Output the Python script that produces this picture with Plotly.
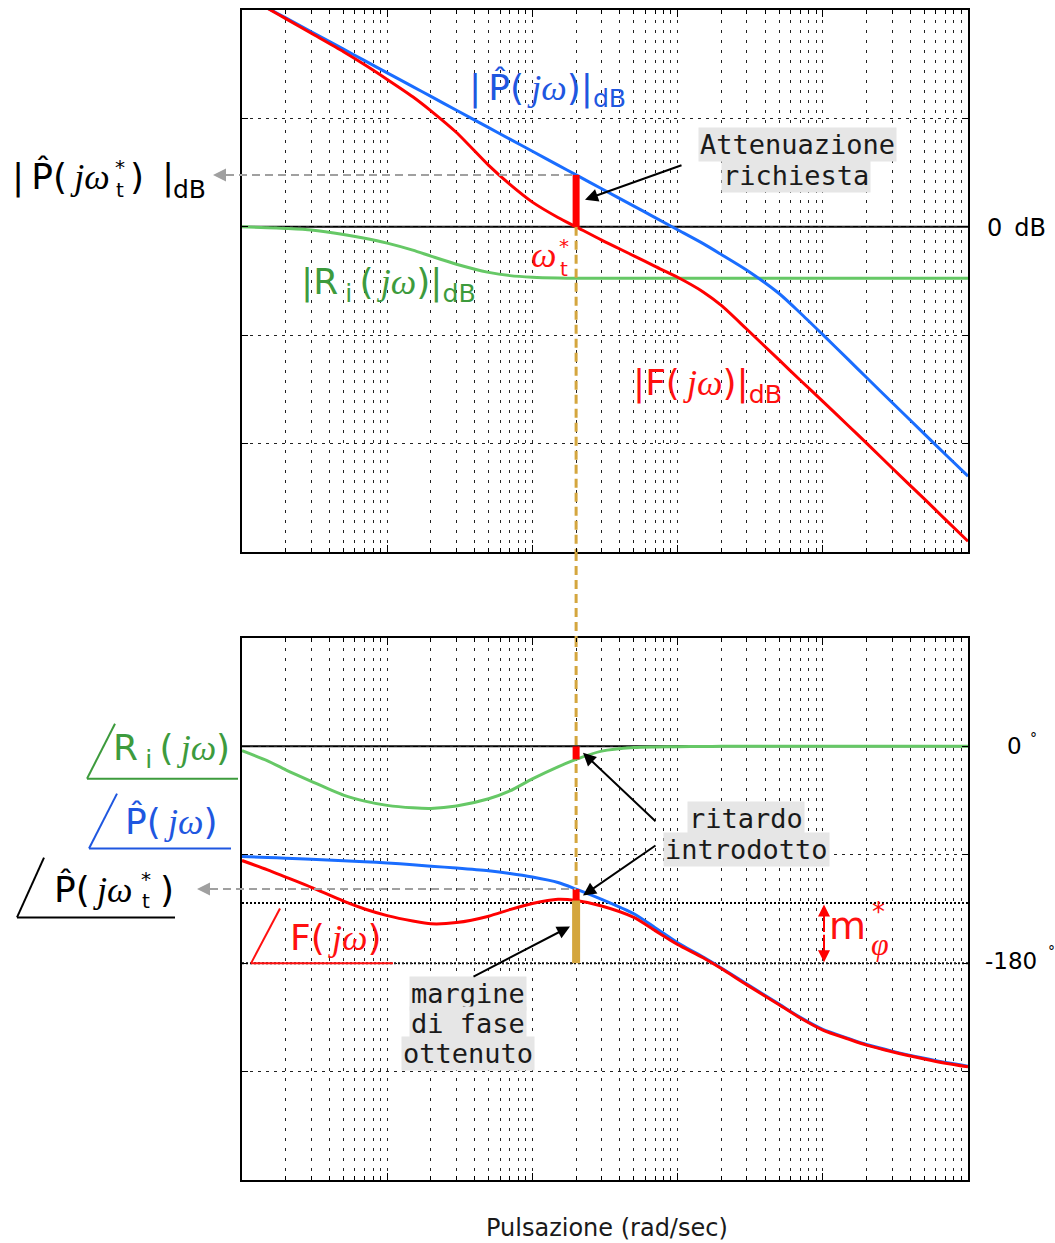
import plotly.graph_objects as go

# ---------------- data ----------------
omega = [0.01, 0.015, 0.02, 0.03, 0.05, 0.07, 0.1, 0.15, 0.2, 0.3, 0.5, 0.7,
         1, 1.5, 2, 3, 5, 7, 10, 15, 20, 30, 50, 70, 100, 150, 200, 300, 500, 700, 1000]

# magnitudes (dB)
P_mag = [42.9, 40.35, 38.54, 35.99, 32.78, 30.66, 28.41, 25.87, 24.06, 21.51, 18.30, 16.18,
         13.94, 11.39, 9.58, 7.03, 3.82, 1.70, -0.54, -3.1, -5.1, -8.0, -12.3, -15.9,
         -19.9, -24.5, -27.8, -32.4, -38.2, -42.0, -46.0]
F_mag = [42.9, 40.3, 38.4, 35.7, 32.3, 29.9, 27.2, 24.0, 21.4, 17.4, 11.34, 7.83,
         4.56, 1.73, 0.0, -2.45, -5.35, -7.3, -9.3, -12.0, -14.5, -18.9, -24.56, -28.3,
         -32.2, -36.7, -39.9, -44.5, -50.2, -54.0, -58.0]
R_mag = [0.0, -0.15, -0.3, -0.6, -1.4, -2.1, -3.0, -4.3, -5.4, -6.9, -8.4, -9.0,
         -9.3, -9.45, -9.5, -9.5, -9.5, -9.5, -9.5, -9.5, -9.5, -9.5, -9.5, -9.5,
         -9.5, -9.5, -9.5, -9.5, -9.5, -9.5, -9.5]

# phases (deg)
R_phase = [-3.6, -12, -19.5, -29, -40.5, -45.5, -49, -51, -51.5, -49.5, -43.5, -37,
           -27, -17, -10.8, -4, -1.0, -0.5, -0.3, -0.15, 0, 0, 0, 0,
           0, 0, 0, 0, 0, 0, 0]
P_phase = [-91.5, -92.2, -92.8, -93.7, -95, -95.8, -96.8, -98.3, -99.5, -101, -103.3, -105.5,
           -108.5, -113, -118.5, -127, -139, -150.5, -163, -175, -184, -197.3, -214, -225,
           -235, -242.5, -247.5, -253, -259, -262.5, -265.5]
F_phase = [-94.8, -102.5, -108.5, -117, -128.5, -135, -140.5, -145, -147.3, -146.3, -141, -135.5,
           -130.5, -127, -128, -132.5, -142, -153, -164.5, -175.5, -184.5, -198, -214.5, -225.5,
           -235.5, -243, -248, -253.5, -259.5, -263, -266]

omega_t = 2            # crossover frequency
pm_level = -130        # phase of F at crossover (margin line)
crit_phase = -180
i_t = omega.index(omega_t)

mag_ticks = [-40, -20, 0, 20]
phase_ticks = [-270, -180, -90, 0]
decades = [0.01, 0.1, 1, 10, 100, 1000]
minor_vals = [k * 10 ** d for d in range(-2, 3) for k in range(2, 10)]

# ---------------- layout helpers (pixel positions) ----------------
W, H = 1055, 1243
ML, MR, MT, MB = 242, 87, 8, 63
PX0, PX1, PY0, PY1 = ML, W - MR, MT, H - MB


def px(x):
    return (x - PX0) / (PX1 - PX0)


def py(y):
    return (PY1 - y) / (PY1 - PY0)


TOP_DOM = [py(551), 1.0]
BOT_DOM = [0.0, py(637)]

BLUE_L, BLUE_T = '#1a6dff', '#1f57e0'
RED_L, RED_T = '#ff0000', '#ff1010'
GREEN_L, GREEN_T = '#66c866', '#3d9b3d'
GOLD = '#d4a63e'
SANS = 'DejaVu Sans'
MONO = 'DejaVu Sans Mono'
T = '\u2009'
JW = '<i><span style="font-family:Liberation Serif">j\u03c9</span></i>'
PH = 'P\u0302'

fig = go.Figure()


def curve(x, y, color, xa, ya, width=3):
    fig.add_trace(go.Scatter(x=x, y=y, xaxis=xa, yaxis=ya, mode='lines',
                             line=dict(color=color, width=width, shape='spline', smoothing=0.7),
                             hoverinfo='skip', showlegend=False))


# magnitude plot
curve(omega, R_mag, GREEN_L, 'x', 'y')
curve(omega, P_mag, BLUE_L, 'x', 'y')
curve(omega, F_mag, RED_L, 'x', 'y')
# phase plot
curve(omega, R_phase, GREEN_L, 'x2', 'y2')
curve(omega, P_phase, BLUE_L, 'x2', 'y2')
curve(omega, F_phase, RED_L, 'x2', 'y2')


def seg(x, y, color, width, xa, ya, dash=None):
    fig.add_trace(go.Scatter(x=x, y=y, xaxis=xa, yaxis=ya, mode='lines',
                             line=dict(color=color, width=width, dash=dash),
                             hoverinfo='skip', showlegend=False))


# gold dashed crossover line (inside the two plots)
seg([omega_t, omega_t], [F_mag[i_t], -60], GOLD, 3, 'x', 'y', dash='9px,5px')
seg([omega_t, omega_t], [90, P_phase[i_t]], GOLD, 3, 'x2', 'y2', dash='9px,5px')
# bars at the crossover
seg([omega_t, omega_t], [P_mag[i_t], F_mag[i_t]], RED_L, 7, 'x', 'y')
seg([omega_t, omega_t], [0, R_phase[i_t]], RED_L, 7, 'x2', 'y2')
seg([omega_t, omega_t], [P_phase[i_t], F_phase[i_t]], RED_L, 7, 'x2', 'y2')
seg([omega_t, omega_t], [F_phase[i_t], crit_phase], GOLD, 8, 'x2', 'y2')

# ---------------- axes ----------------
grid_common = dict(showline=True, linecolor='black', linewidth=1.5, mirror='allticks',
                   ticks='inside', tickcolor='black', showticklabels=False, zeroline=False,
                   showgrid=True, gridcolor='#222222', gridwidth=1)
xax = dict(type='log', range=[-2, 3], tickmode='array', tickvals=decades, ticklen=7,
           griddash='3px,7px',
           minor=dict(tickmode='array', tickvals=minor_vals, ticks='inside', ticklen=4,
                      tickcolor='black', showgrid=True, gridcolor='#222222', gridwidth=1,
                      griddash='3px,7px'),
           **grid_common)

fig.update_layout(
    width=W, height=H, margin=dict(l=ML, r=MR, t=MT, b=MB),
    paper_bgcolor='white', plot_bgcolor='white', showlegend=False,
    xaxis=dict(anchor='y', domain=[0, 1], **xax),
    xaxis2=dict(anchor='y2', domain=[0, 1], **xax),
    yaxis=dict(anchor='x', domain=TOP_DOM, range=[-60, 40], tickmode='array',
               tickvals=mag_ticks, ticklen=6, griddash='3px,5px', **grid_common),
    yaxis2=dict(anchor='x2', domain=BOT_DOM, range=[-360, 90], tickmode='array',
                tickvals=phase_ticks, ticklen=6, griddash='3px,5px', **grid_common),
)

# reference lines
fig.add_shape(type='line', xref='paper', yref='y', x0=0, x1=1, y0=0, y1=0,
              line=dict(color='black', width=2), layer='between')
fig.add_shape(type='line', xref='paper', yref='y2', x0=0, x1=1, y0=0, y1=0,
              line=dict(color='black', width=2), layer='between')
for lv in (pm_level, crit_phase):
    fig.add_shape(type='line', xref='paper', yref='y2', x0=0, x1=1, y0=lv, y1=lv,
                  line=dict(color='black', width=2, dash='2px,2px'), layer='between')
# gold dashed line in the gap between plots
fig.add_shape(type='line', xref='x', yref='paper', x0=omega_t, x1=omega_t,
              y0=TOP_DOM[0], y1=BOT_DOM[1], line=dict(color=GOLD, width=3, dash='9px,5px'))

# gray dashed leaders towards the left labels
xt_paper = px(576)
fig.add_shape(type='line', xref='paper', yref='y', x0=px(226), x1=xt_paper,
              y0=P_mag[i_t], y1=P_mag[i_t], line=dict(color='#a0a0a0', width=2, dash='8px,5px'))
fig.add_shape(type='line', xref='paper', yref='y2', x0=px(210), x1=xt_paper,
              y0=P_phase[i_t], y1=P_phase[i_t], line=dict(color='#a0a0a0', width=2, dash='8px,5px'))
fig.add_annotation(x=px(213), y=P_mag[i_t], xref='paper', yref='y', ax=16, ay=0, text='',
                   showarrow=True, arrowhead=2, arrowsize=1.3, arrowwidth=2, arrowcolor='#a0a0a0')
fig.add_annotation(x=px(197), y=P_phase[i_t], xref='paper', yref='y2', ax=16, ay=0, text='',
                   showarrow=True, arrowhead=2, arrowsize=1.3, arrowwidth=2, arrowcolor='#a0a0a0')


def ann(text, x, y, size, color, xanchor='center', yanchor='middle', family=SANS, bg=None):
    d = dict(text=text, x=px(x), y=py(y), xref='paper', yref='paper', showarrow=False,
             font=dict(size=size, color=color, family=family), xanchor=xanchor, yanchor=yanchor)
    if bg:
        d.update(bgcolor=bg, borderpad=1)
    fig.add_annotation(**d)


def arrow(xh, yh, xt, yt, color='black', width=2, size=1.3):
    fig.add_annotation(x=px(xh), y=py(yh), xref='paper', yref='paper', ax=xt - xh, ay=yt - yh,
                       text='', showarrow=True, arrowhead=2, arrowsize=size, arrowwidth=width,
                       arrowcolor=color)


def angle(x0, y0, xs, ys, x1, color):
    fig.add_shape(type='line', xref='paper', yref='paper', x0=px(x0), y0=py(y0), x1=px(xs), y1=py(ys),
                  line=dict(color=color, width=2))
    fig.add_shape(type='line', xref='paper', yref='paper', x0=px(x0), y0=py(y0), x1=px(x1), y1=py(y0),
                  line=dict(color=color, width=2))


def star_t(x, y, size, color, gap):
    ann('*', x, y - gap / 2, size, color)
    ann('t', x, y + gap / 2 + 3, size, color)


# ---- magnitude labels ----
ann('|' + T + PH + '(' + T + JW + ')|<sub>dB</sub>', 547, 88, 36, BLUE_T)
ann('|R' + T + '<sub>i</sub>' + T + '(' + T + JW + ')|<sub>dB</sub>', 388, 283, 36, GREEN_T)
ann('|F(' + T + JW + ')|<sub>dB</sub>', 707, 384, 36, RED_T)
# omega_t*
ann('<i>\u03c9</i>', 543, 253, 36, RED_T, family='Liberation Serif')
star_t(564, 254, 20, RED_T, 20)
# left label |P(jw_t*)|dB
ann('|' + T + PH + '(' + T + JW, 112, 175, 36, 'black', xanchor='right')
star_t(120, 175, 20, 'black', 20)
ann(')\u2002|', 128, 175, 36, 'black', xanchor='left')
ann('dB', 189, 188, 25, 'black')
# Attenuazione richiesta
ann('Attenuazione', 797, 143, 27, '#1a1a1a', family=MONO, bg='#e6e6e6')
ann('richiesta', 796, 174, 27, '#1a1a1a', family=MONO, bg='#e6e6e6')
arrow(585, 198, 683, 163)
ann('0\u2002dB', 1016, 226, 24, 'black')

# ---- phase labels ----
angle(87, 778, 115, 723, 238, GREEN_T)
ann('R' + T + '<sub>i</sub>' + T + '(' + T + JW + ')', 171, 750, 36, GREEN_T)
angle(89, 848, 117, 793, 231, BLUE_T)
ann(PH + '(' + T + JW + ')', 171, 820, 36, BLUE_T)
angle(17, 917, 44, 857, 175, 'black')
ann(PH + '(' + T + JW, 134, 889, 36, 'black', xanchor='right')
star_t(146, 888, 20, 'black', 20)
ann(')', 158, 889, 36, 'black', xanchor='left')
angle(251, 963, 280, 908, 393, RED_T)
ann('F(' + T + JW + ')', 335, 937, 36, RED_T)

ann('ritardo', 746, 818, 27, '#1a1a1a', family=MONO, bg='#e6e6e6')
ann('introdotto', 746, 849, 27, '#1a1a1a', family=MONO, bg='#e6e6e6')
arrow(583, 752, 657, 822)
arrow(583, 895, 657, 844)

ann('margine', 468, 993, 27, '#1a1a1a', family=MONO, bg='#e6e6e6')
ann('di fase', 468, 1023, 27, '#1a1a1a', family=MONO, bg='#e6e6e6')
ann('ottenuto', 468, 1053, 27, '#1a1a1a', family=MONO, bg='#e6e6e6')
arrow(570, 926, 472, 977)

# phase margin double arrow and label
arrow(824, 904, 824, 933, color=RED_L, width=2, size=1.2)
arrow(824, 962, 824, 933, color=RED_L, width=2, size=1.2)
ann('m', 847, 926, 38, RED_T)
ann('*', 878, 912, 26, RED_T)
ann('<i>\u03c6</i>', 880, 944, 32, RED_T, family='Liberation Serif')

ann('0', 1014, 745, 23, 'black')
ann('\u00b0', 1033, 737, 14, 'black')
ann('-180', 1011, 961, 23, 'black')
ann('\u00b0', 1051, 951, 14, 'black')

ann('Pulsazione (rad/sec)', 607, 1228, 24, '#1a1a1a')

fig.write_html('out.html')
